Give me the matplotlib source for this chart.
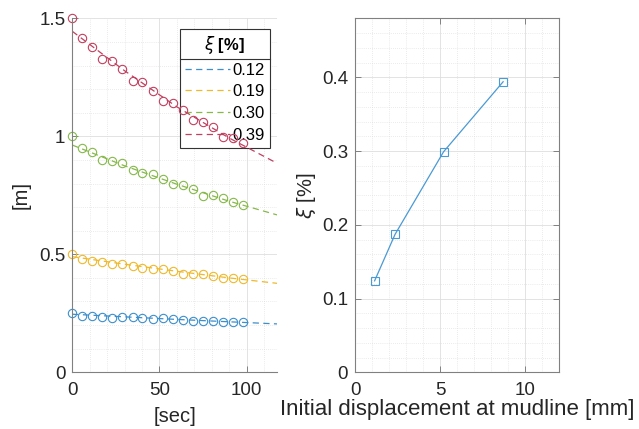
import matplotlib.pyplot as plt
from matplotlib.lines import Line2D
from matplotlib.ticker import MultipleLocator

plt.rcParams['font.family'] = ['Liberation Sans', 'DejaVu Sans']

# peak times [sec]
t_peak = [0, 5.8, 11.5, 17.3, 23.0, 28.8, 34.6, 40.3, 46.1, 51.8,
          57.6, 63.4, 69.1, 74.9, 80.6, 86.4, 92.2, 97.9]

# peak amplitudes [m] for each damping case
amp_012 = [0.250, 0.240, 0.240, 0.236, 0.231, 0.233, 0.233, 0.229, 0.226,
           0.229, 0.226, 0.222, 0.217, 0.219, 0.217, 0.214, 0.212, 0.212]
amp_019 = [0.500, 0.479, 0.473, 0.466, 0.458, 0.458, 0.452, 0.441, 0.438,
           0.438, 0.429, 0.417, 0.417, 0.417, 0.408, 0.398, 0.401, 0.395]
amp_030 = [1.000, 0.949, 0.932, 0.900, 0.897, 0.886, 0.857, 0.846, 0.839,
           0.818, 0.798, 0.794, 0.777, 0.748, 0.751, 0.740, 0.721, 0.709]
amp_039 = [1.500, 1.418, 1.380, 1.326, 1.320, 1.284, 1.236, 1.229, 1.193,
           1.150, 1.143, 1.111, 1.069, 1.062, 1.038, 0.998, 0.994, 0.970]

# fitted decay curves
t_fit = [0, 30, 60, 90, 117.5]
fit_012 = [0.246, 0.235, 0.224, 0.214, 0.205]
fit_019 = [0.490, 0.458, 0.428, 0.400, 0.377]
fit_030 = [0.963, 0.875, 0.797, 0.725, 0.667]
fit_039 = [1.445, 1.278, 1.125, 0.993, 0.886]

labels = ['0.12', '0.19', '0.30', '0.39']

# damping vs initial displacement
disp_mm = [1.15, 2.35, 5.2, 8.7]
xi_pct = [0.124, 0.187, 0.299, 0.394]

colors = ['#3d8fcc', '#eeb92c', '#86b84a', '#c0405f']
txt = '#262626'
spine = '#808080'

fig = plt.figure(figsize=(6.39, 4.29), dpi=100)
ax1 = fig.add_axes([0.1131, 0.1322, 0.3204, 0.8251])
ax2 = fig.add_axes([0.5556, 0.1322, 0.3197, 0.8251])


def style(ax, box):
    ax.grid(True, which='major', color='#dedede', linewidth=0.6)
    ax.grid(True, which='minor', color='#d8d8d8', linewidth=0.5, linestyle=(0, (1, 2)))
    ax.set_axisbelow(True)
    ax.tick_params(which='both', direction='in', colors=spine, labelcolor=txt,
                   labelsize=13.5, top=box, right=box)
    ax.tick_params(which='major', length=4, width=0.7)
    ax.tick_params(which='minor', length=0)
    ax.tick_params(axis='x', which='major', pad=7)
    ax.tick_params(axis='y', which='major', pad=5)
    for s in ax.spines.values():
        s.set_color(spine)
        s.set_linewidth(0.8)
    if not box:
        ax.spines['top'].set_visible(False)
        ax.spines['right'].set_visible(False)


# left panel
amps = [amp_012, amp_019, amp_030, amp_039]
fits = [fit_012, fit_019, fit_030, fit_039]
handles = []
for a, f, c, lab in zip(amps, fits, colors, labels):
    h, = ax1.plot(t_fit, f, '--', color=c, linewidth=0.9, dashes=(5, 3.5), label=lab)
    ax1.plot(t_peak, a, 'o', mfc='none', mec=c, ms=6, mew=0.8, clip_on=False)
    handles.append(h)
ax1.set_xlim(0, 117.5)
ax1.set_ylim(0, 1.5)
ax1.set_xticks([0, 50, 100])
ax1.set_yticks([0, 0.5, 1, 1.5])
ax1.set_yticklabels(['0', '0.5', '1', '1.5'])
ax1.xaxis.set_minor_locator(MultipleLocator(10))
ax1.yaxis.set_minor_locator(MultipleLocator(0.1))
style(ax1, False)
ax1.set_xlabel('[sec]', fontsize=14.5, color=txt, labelpad=6)
ax1.set_ylabel('[m]', fontsize=14.5, color=txt, labelpad=6)

leg = ax1.legend(handles=handles, title=r'$\xi$ [%]', loc='upper left',
                 bbox_to_anchor=(0.526, 0.97), fontsize=12, frameon=True,
                 fancybox=False, framealpha=1, edgecolor='#333333',
                 handlelength=2.7, handletextpad=0.15, labelspacing=0.4,
                 borderpad=0.3, borderaxespad=0)
leg.get_title().set_fontsize(12)
leg.get_title().set_fontweight('bold')
leg.get_frame().set_linewidth(0.8)
leg.set_zorder(1.5)

# right panel
ax2.plot(disp_mm, xi_pct, '-s', color='#4a9ad4', linewidth=0.9, mfc='none',
         ms=6, mew=0.8)
ax2.set_xlim(0, 12)
ax2.set_ylim(0, 0.48)
ax2.set_xticks([0, 5, 10])
ax2.set_yticks([0, 0.1, 0.2, 0.3, 0.4])
ax2.set_yticklabels(['0', '0.1', '0.2', '0.3', '0.4'])
ax2.xaxis.set_minor_locator(MultipleLocator(1))
ax2.yaxis.set_minor_locator(MultipleLocator(0.02))
style(ax2, True)
ax2.set_xlabel('Initial displacement at mudline [mm]', fontsize=16, color=txt,
               labelpad=0)
ax2.set_ylabel(r'$\xi$ [%]', fontsize=14.5, color=txt, labelpad=3)

# separator line under the legend title
fig.canvas.draw()
lb = leg.get_window_extent()
tb = leg.get_title().get_window_extent()
ysep = tb.y0 - 3
fig.add_artist(Line2D([lb.x0, lb.x1], [ysep, ysep], transform=None,
                      color='#333333', linewidth=0.8, zorder=1.6))

fig.savefig('out.png', dpi=100)
